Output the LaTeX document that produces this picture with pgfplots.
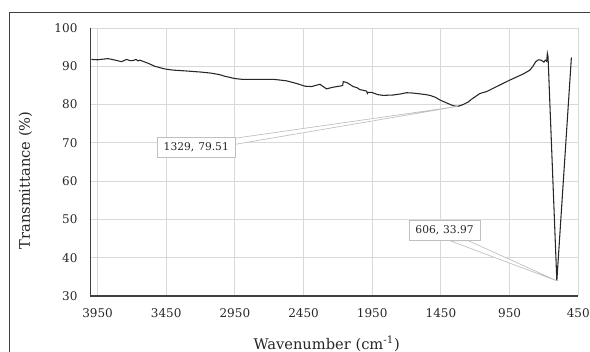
\documentclass[border=0pt]{standalone}
\usepackage{fontspec}
\setmainfont{DejaVu Serif}
\usepackage{pgfplots}
\pgfplotsset{compat=1.18}

\definecolor{gridgray}{HTML}{D9D9D9}
\definecolor{axisgray}{HTML}{404040}
\definecolor{labelgray}{HTML}{BFBFBF}
\definecolor{textgray}{HTML}{262626}

\begin{document}
\begin{tikzpicture}
\useasboundingbox (0,0) rectangle (442.5pt,263.25pt);
% outer chart frame
\draw[axisgray, line width=0.8pt] (7pt,-2pt) -- (7pt,254pt) -- (445pt,254pt);

\begin{axis}[
  at={(68pt,41.25pt)}, anchor=south west,
  scale only axis, width=365.7pt, height=201pt,
  x dir=reverse,
  xmin=450, xmax=4000, ymin=30, ymax=100,
  xtick={450,950,1450,1950,2450,2950,3450,3950},
  ytick={30,40,50,60,70,80,90,100},
  grid=major,
  major grid style={gridgray, line width=0.75pt},
  axis line style={draw=none},
  major tick length=0pt,
  tick label style={font=\fontsize{9}{11}\selectfont, text=textgray},
  /pgf/number format/assume math mode=true,
  /pgf/number format/set thousands separator={},
  xticklabel style={inner sep=0pt, anchor=north, yshift=-9pt},
  yticklabel style={inner sep=0pt, anchor=east, xshift=-9.75pt},
  clip=false,
]
\addplot[black!85, line width=0.8pt] coordinates {
(3995,91.8) (3950,91.7) (3900,91.9) (3873,92.0) (3820,91.6) (3775,91.2)
(3739,91.8) (3715,91.5) (3691,91.5) (3670,91.8) (3655,91.4) (3642,91.6)
(3620,91.3) (3582,90.8) (3533,90.0) (3460,89.3) (3400,89.0) (3314,88.8)
(3200,88.5) (3120,88.2) (3060,87.8) (3023,87.4) (2950,86.8) (2900,86.6)
(2829,86.6) (2750,86.6) (2671,86.6) (2620,86.4) (2574,86.2) (2500,85.5)
(2440,84.8) (2392,84.7) (2331,85.3) (2283,84.1) (2240,84.5) (2173,84.9)
(2165,85.0) (2161,86.0) (2150,85.9) (2132,85.7) (2110,85.2) (2089,84.7)
(2060,84.4) (2040,83.9) (2010,83.7) (1991,83.5) (1985,82.9) (1980,83.2)
(1955,83.2) (1910,82.6) (1870,82.4) (1797,82.5) (1740,82.8) (1700,83.1)
(1650,83.0) (1603,82.8) (1560,82.6) (1530,82.4) (1490,81.9) (1457,81.2)
(1400,80.3) (1361,79.7) (1329,79.51) (1288,80.0) (1250,80.7) (1227,81.4)
(1190,82.3) (1166,82.9) (1117,83.4) (1050,84.6) (948,86.4) (850,88.0)
(802,89.0) (780,90.0) (760,91.2) (740,91.7) (720,91.6) (700,91.1)
(690,91.6) (680,91.3) (675,93.4) (670,92.5) (606,33.97) (500,92.3)
};

% data callouts
\filldraw[fill=white, draw=labelgray, line width=0.5pt]
  (axis cs:2950,71.2) -- (axis cs:1329,79.51) -- (axis cs:2950,69.6) -- cycle;
\node[draw=labelgray, fill=white, line width=0.6pt, inner sep=0pt,
      minimum width=58pt, minimum height=15pt,
      font=\fontsize{8}{10}\selectfont, text=textgray]
  at (axis cs:3231,68.9) {1329,\hspace{3pt}79.51};
\filldraw[fill=white, draw=labelgray, line width=0.5pt]
  (axis cs:1385,44.45) -- (axis cs:606,33.97) -- (axis cs:1251,44.45) -- cycle;
\node[draw=labelgray, fill=white, line width=0.6pt, inner sep=0pt,
      minimum width=53pt, minimum height=15pt,
      font=\fontsize{8}{10}\selectfont, text=textgray]
  at (axis cs:1423,47.2) {606,\hspace{3pt}33.97};

% left and bottom axis lines
\draw[axisgray, line width=1.1pt]
  (axis description cs:0,1) -- (axis description cs:0,0) -- (axis description cs:1,0);
\end{axis}

\node[anchor=base, font=\fontsize{11}{13}\selectfont, text=textgray]
  at (245pt,1.3pt) {Wavenumber (cm\textsuperscript{-1})};
\node[rotate=90, font=\fontsize{11}{13}\selectfont, text=textgray]
  at (19pt,127.9pt) {Transmittance (\%)};
\end{tikzpicture}
\end{document}
